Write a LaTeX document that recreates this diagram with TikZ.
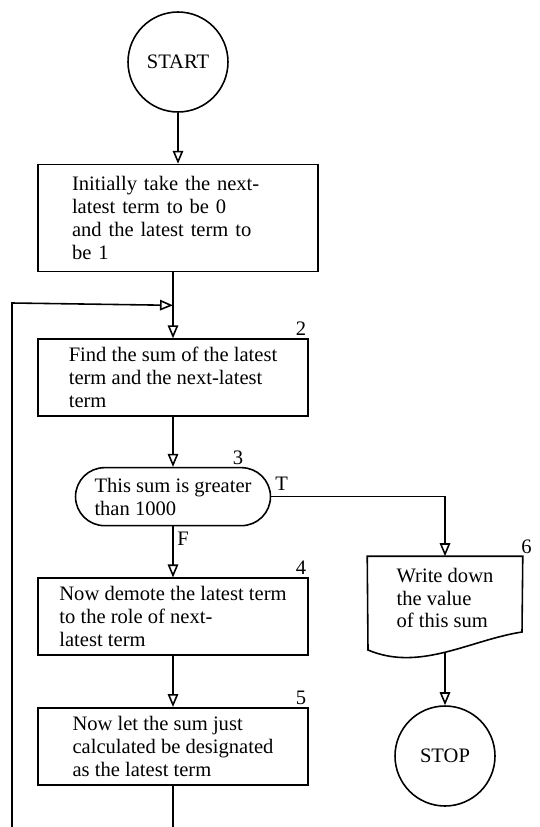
\documentclass[tikz,border=0pt]{standalone}
\usepackage{fontspec}
\setmainfont{Liberation Serif}
\usetikzlibrary{calc, positioning, arrows.meta}

\begin{document}
\begin{tikzpicture}[x=0.02cm, y=-0.02cm, line width=0.9pt,
    >={Triangle[open, length=0.26cm, width=0.21cm]},
    font=\fontsize{11.7}{13}\selectfont, node distance=1.02cm,
    term/.style={draw, circle, minimum size=2cm, inner sep=0pt},
    stepbox/.style={draw, minimum width=5.4cm, minimum height=1.54cm, inner ysep=2pt, align=left},
    testbox/.style={draw, rounded corners=0.58cm, minimum width=3.9cm, minimum height=1.16cm, align=left},
    numlbl/.style={inner sep=1pt}]
  \useasboundingbox (0,0) rectangle (539,827);

  % main column
  \node[term] (start) at (178,62) {START};
  \node[stepbox, minimum width=5.6cm, minimum height=2.14cm, text width=4.24cm, below=of start] (b1)
    {Initially take the next-\\latest term to be 0\\and the latest term to\\be 1};
  \node[stepbox, below=1.32cm of b1, xshift=-0.1cm] (b2)
    {Find the sum of the latest\\term and the next-latest\\term};
  \node[testbox, below=1cm of b2] (d3) {This sum is greater\\than 1000};
  \node[stepbox, below=of d3] (b4)
    {Now demote the latest term\\to the role of next-\\latest term};
  \node[stepbox, below=of b4] (b5)
    {Now let the sum just\\calculated be designated\\as the latest term};

  % output and stop
  \node[minimum width=3.08cm, minimum height=1.64cm, align=left] (b6) at (445,598)
    {Write down\\the value\\of this sum};
  \draw (b6.north west) -- (b6.north east) -- (522,632)
    .. controls (470,640) and (420,672) .. (368,650) coordinate[midway] (b6b) -- cycle;
  \node[term] (stop) at (445,756) {STOP};

  % step numbers
  \node[numlbl, anchor=south east] at (b2.north east) {2};
  \node[numlbl, anchor=south, xshift=1.3cm] at (d3.north) {3};
  \node[numlbl, anchor=south east] at (b4.north east) {4};
  \node[numlbl, anchor=south east] at (b5.north east) {5};
  \node[numlbl, anchor=south west, xshift=-0.08cm] at (b6.north east) {6};

  % connectors
  \coordinate (join) at ($(b1.south -| b2.north)!0.5!(b2.north)$);
  \draw[->] (start) -- (b1);
  \draw[->] (b1.south -| b2.north) -- (b2.north);
  \draw[->] (b2) -- (d3);
  \draw[->] (d3) -- node[pos=0.25, right, inner sep=2pt]{F} (b4);
  \draw[->] (b4) -- (b5);
  \draw[->] (d3.east) -| node[pos=0.03, above]{T} (b6.north);
  \draw[->] (b6b) -- (stop);
  \draw[->] (b5.south) -- ++(0,70) -| (12,303) -- (join);
\end{tikzpicture}
\end{document}
